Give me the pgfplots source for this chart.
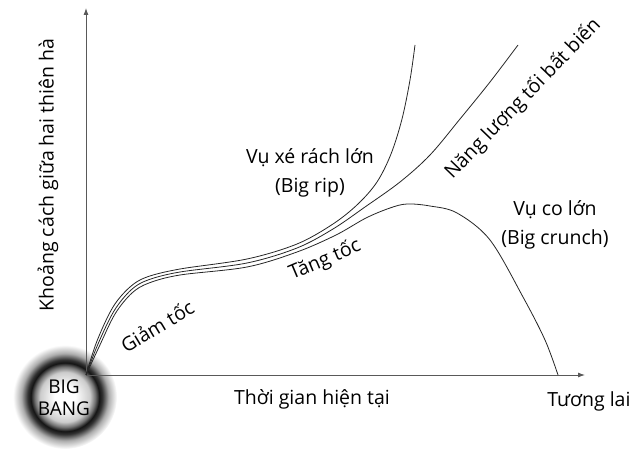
\documentclass[border=0pt]{standalone}
\usepackage{pgfplots}
\pgfplotsset{compat=1.18}
\usepackage{fontspec}
\setmainfont{Open Sans}
\usetikzlibrary{arrows.meta}
% glow around the big bang: light disc, dark rim, fading out
\pgfdeclareradialshading{bigbang}{\pgfpoint{0bp}{0bp}}{%
  color(0bp)=(white);
  color(5bp)=(white);
  color(12bp)=(white!80!black);
  color(14.5bp)=(black!55);
  color(16.5bp)=(black!92);
  color(18bp)=(black!80);
  color(21bp)=(black!32);
  color(25bp)=(white);
  color(50bp)=(white)}
\begin{document}
\begin{tikzpicture}
\begin{axis}[
  width=634pt, height=452pt,
  scale only axis,
  xmin=-86, xmax=548,
  ymin=-77, ymax=375,
  hide axis,
  clip=false,
]
% keep the full frame as bounding box
\path (axis cs:-86,-77) rectangle (axis cs:548,375);
% big bang
\shade[shading=bigbang] (axis cs:-21,-22) circle [radius=52];
\node[font=\fontsize{19}{22}\selectfont, align=center] at (axis cs:-22,-23) {BIG\\BANG};

% axes with arrows
\addplot[black!65, line width=0.9pt, -{Latex[length=7pt,width=5pt]}] coordinates {(0,0) (499,0)};
\addplot[black!65, line width=0.9pt, -{Latex[length=7pt,width=5pt]}] coordinates {(0,0) (0,367)};

% big rip
\addplot[black!85, line width=0.8pt, smooth, tension=0.55] coordinates {
  (0,0) (11,34) (27,68) (44,88) (61,98) (94,106) (161,116) (211,131)
  (247,151) (272,171) (291,193) (305,221) (316,256) (324,295) (329,330)};
% constant dark energy
\addplot[black!85, line width=0.8pt, smooth, tension=0.55] coordinates {
  (0,0) (12,31) (28,64) (45,85) (62,95) (94,103) (161,112) (211,127)
  (247,146) (279,168) (314,193) (344,220) (374,256) (404,293) (432,330)};
% big crunch
\addplot[black!85, line width=0.8pt, smooth, tension=0.55] coordinates {
  (0,0) (13,28) (29,61) (46,82) (63,92) (94,100) (161,108) (211,123)
  (250,140) (280,157) (304,167) (321,171) (344,169) (371,162)
  (404,135) (437,78) (459,35) (472,0)};

% labels
\begin{scope}[font=\fontsize{19.5}{29}\selectfont]
\node[rotate=90] at (axis cs:-38,200) {Khoảng cách giữa hai thiên hà};
\node at (axis cs:226,-24) {Thời gian hiện tại};
\node[anchor=east] at (axis cs:548,-26) {Tương lai};
\node[rotate=31] at (axis cs:71,49) {Giảm tốc};
\node[rotate=23] at (axis cs:239,115) {Tăng tốc};
\node[align=center] at (axis cs:224,202) {Vụ xé rách lớn\\(Big rip)};
\node[align=center] at (axis cs:469,150) {Vụ co lớn\\(Big crunch)};
\node[rotate=46] at (axis cs:437,276) {Năng lượng tối bất biến};
\end{scope}
\end{axis}
\end{tikzpicture}
\end{document}
